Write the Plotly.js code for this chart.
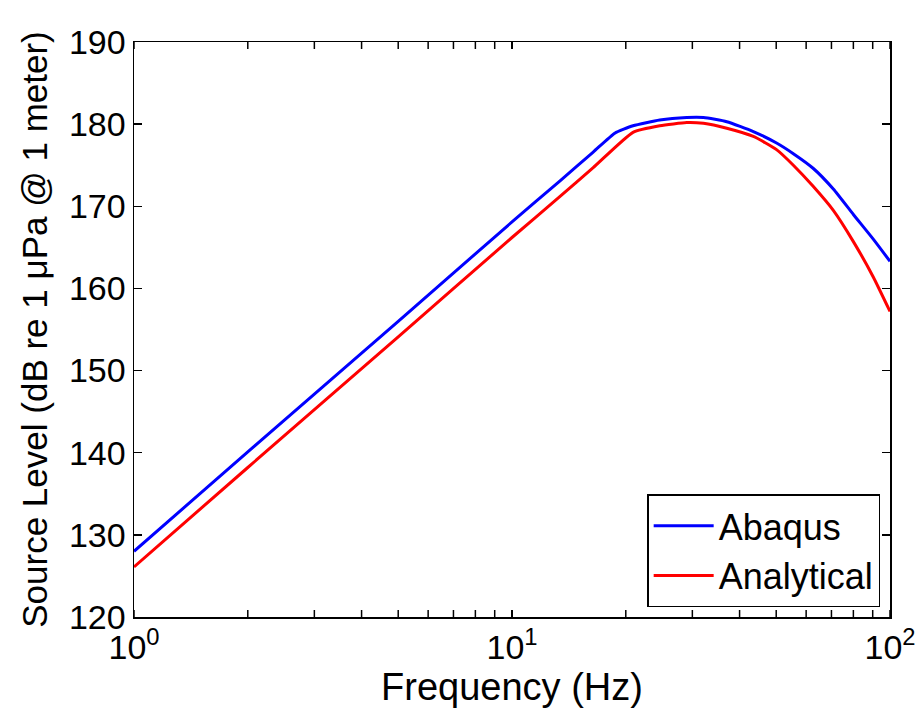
<!DOCTYPE html>
<html>
<head>
<meta charset="utf-8">
<script src="https://cdn.plot.ly/plotly-3.0.1.min.js"></script>
<style>html,body{margin:0;padding:0;background:#fff;}</style>
</head>
<body>
<div id="chart" style="width:919px;height:721px;"></div>
<script>
var abaqusFreq = [1, 2, 5, 10, 13.4, 16.4, 18.7, 20.9, 24.6, 29.0, 32.1, 37.0, 43.5, 50.1, 55.5, 62.7, 70.8, 80.0, 90.3, 100];
var abaqusLevel = [128.0, 140.1, 156.0, 168.1, 173.1, 176.6, 178.9, 179.8, 180.5, 180.8, 180.8, 180.3, 179.1, 177.7, 176.4, 174.6, 172.1, 169.0, 166.0, 163.3];
var analyticalFreq = [1, 2, 5, 10, 13.4, 16.4, 20.9, 24.6, 29.0, 32.1, 37.0, 43.5, 50.1, 55.5, 62.7, 70.8, 80.0, 90.3, 100];
var analyticalLevel = [126.1, 138.2, 154.1, 166.2, 171.2, 174.7, 179.0, 179.8, 180.2, 180.1, 179.5, 178.5, 176.9, 175.0, 172.4, 169.5, 165.7, 161.4, 157.2];
var seriesNames = ['Abaqus', 'Analytical'];
var xDecadeTicks = [1, 10, 100];
var xDecadeLabels = ['10<sup>0</sup>', '10<sup>1</sup>', '10<sup>2</sup>'];
var xMinorTicks = [2, 3, 4, 5, 6, 7, 8, 9, 20, 30, 40, 50, 60, 70, 80, 90];
var yTickVals = [120, 130, 140, 150, 160, 170, 180, 190];

var xRangeLog = [0, 2];
var plotHeightPx = 721 - 42 - 104;
var tickLenPx = 7;

var fontFam = '"Liberation Sans", Arial, Helvetica, sans-serif';

// x-axis tick marks (decade + minor), placed through the axis' log range, bottom and top
var tickShapes = [];
xDecadeTicks.concat(xMinorTicks).forEach(function (v) {
  var px = (Math.log10(v) - xRangeLog[0]) / (xRangeLog[1] - xRangeLog[0]);
  var h = tickLenPx / plotHeightPx;
  tickShapes.push({type: 'line', xref: 'paper', yref: 'paper', x0: px, x1: px, y0: 0, y1: h,
                   line: {color: '#000', width: 1.5}, layer: 'above'});
  tickShapes.push({type: 'line', xref: 'paper', yref: 'paper', x0: px, x1: px, y0: 1, y1: 1 - h,
                   line: {color: '#000', width: 1.5}, layer: 'above'});
});

var traces = [
  {x: abaqusFreq, y: abaqusLevel, name: seriesNames[0], type: 'scatter', mode: 'lines',
   line: {color: '#0000ff', width: 3, shape: 'spline', smoothing: 0.5}},
  {x: analyticalFreq, y: analyticalLevel, name: seriesNames[1], type: 'scatter', mode: 'lines',
   line: {color: '#ff0000', width: 3, shape: 'spline', smoothing: 0.5}}
];

var layout = {
  width: 919, height: 721,
  margin: {l: 134, r: 29, t: 42, b: 104},
  paper_bgcolor: '#fff', plot_bgcolor: '#fff',
  font: {family: fontFam, size: 34, color: '#000'},
  showlegend: true,
  legend: {
    x: 0.987, y: 0.017, xanchor: 'right', yanchor: 'bottom',
    bordercolor: '#000', borderwidth: 1.5, bgcolor: '#fff',
    font: {family: fontFam, size: 36, color: '#000'},
    itemwidth: 60, tracegroupgap: 0, traceorder: 'normal'
  },
  shapes: tickShapes,
  xaxis: {
    type: 'log', range: xRangeLog,
    tickmode: 'array', tickvals: xDecadeTicks, ticktext: xDecadeLabels,
    ticks: 'inside', ticklen: tickLenPx, tickwidth: 1.5, tickcolor: '#000',
    showline: true, linecolor: '#000', linewidth: 1.5, mirror: 'ticks',
    showgrid: false, zeroline: false,
    tickfont: {family: fontFam, size: 34, color: '#000'},
    title: {text: 'Frequency (Hz)', font: {family: fontFam, size: 38, color: '#000'}, standoff: 6}
  },
  yaxis: {
    range: [120, 190], tickvals: yTickVals,
    ticks: 'inside', ticklen: 8, tickwidth: 1.5, tickcolor: '#000',
    showline: true, linecolor: '#000', linewidth: 1.5, mirror: 'ticks',
    showgrid: false, zeroline: false,
    tickfont: {family: fontFam, size: 34, color: '#000'},
    title: {text: 'Source Level (dB re 1 \u03bcPa @ 1 meter)', font: {family: fontFam, size: 35, color: '#000'}, standoff: 10}
  }
};

Plotly.newPlot('chart', traces, layout, {displayModeBar: false, staticPlot: true});
</script>
</body>
</html>
